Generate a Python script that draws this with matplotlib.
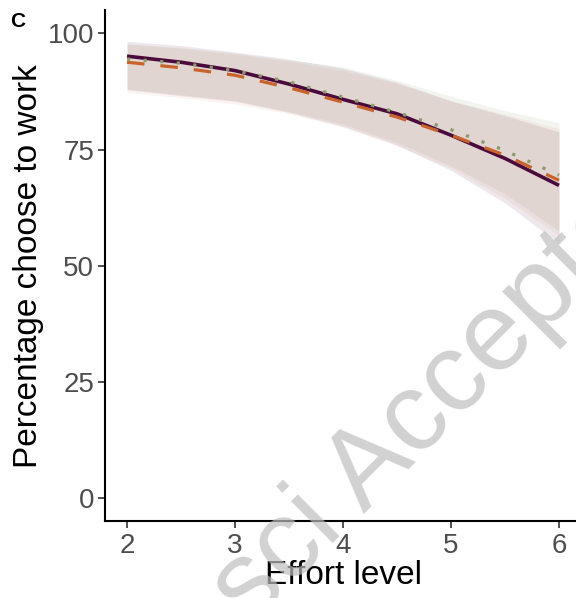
import matplotlib
matplotlib.use("Agg")
import matplotlib.pyplot as plt

plt.rcParams['font.family'] = ['Liberation Sans', 'DejaVu Sans']

# effort levels and model predictions (percent choose to work)
effort = [2, 2.5, 3, 3.5, 4, 4.5, 5, 5.5, 6]

purple_fit = [95.1, 93.8, 92.0, 89.1, 85.8, 82.7, 78.1, 73.1, 67.3]
purple_lo = [87.9, 86.6, 85.4, 83.0, 80.0, 76.0, 70.5, 63.5, 54.8]
purple_hi = [98.3, 97.4, 96.0, 94.5, 92.5, 89.5, 85.5, 82.3, 78.8]

orange_fit = [93.8, 92.6, 91.0, 88.3, 85.2, 82.0, 78.1, 73.8, 68.4]
orange_lo = [87.3, 86.2, 84.8, 82.7, 79.8, 75.8, 71.0, 64.5, 56.5]
orange_hi = [97.6, 96.8, 95.5, 94.0, 92.0, 89.2, 85.5, 82.6, 79.5]

green_fit = [94.5, 93.6, 92.0, 89.6, 86.3, 83.0, 79.3, 74.8, 69.5]
green_lo = [88.0, 86.8, 85.5, 83.2, 80.5, 76.5, 71.5, 65.5, 57.5]
green_hi = [97.8, 97.0, 95.8, 94.3, 92.8, 89.9, 86.5, 83.4, 80.8]

x_ticks = [2, 3, 4, 5, 6]
y_ticks = [0, 25, 50, 75, 100]

c_purple = '#4A0A3C'
c_orange = '#C8642B'
c_green = '#8B9B6B'

fig = plt.figure(figsize=(5.76, 5.98), dpi=100)
ax = fig.add_axes([0.183, 0.128, 0.825, 0.855])

# confidence ribbons
ax.fill_between(effort, green_lo, green_hi, color=c_green, alpha=0.10, lw=0)
ax.fill_between(effort, purple_lo, purple_hi, color=c_purple, alpha=0.09, lw=0)
ax.fill_between(effort, orange_lo, orange_hi, color=c_orange, alpha=0.07, lw=0)

# fitted lines
ax.plot(effort, purple_fit, color=c_purple, lw=2.6, solid_capstyle='butt')
ax.plot(effort, orange_fit, color=c_orange, lw=2.3, ls=(0, (5.5, 5)), dash_capstyle='butt')
ax.plot(effort, green_fit, color=c_green, lw=2.3, ls=(0, (1, 4.2)), dash_capstyle='butt')

ax.set_xlim(1.8, 6.2)
ax.set_ylim(-5, 105)
ax.set_xticks(x_ticks)
ax.set_yticks(y_ticks)
ax.tick_params(labelsize=20, labelcolor='#4D4D4D', color='#333333', length=5, width=1.2, pad=3)
for s in ['top', 'right']:
    ax.spines[s].set_visible(False)
for s in ['left', 'bottom']:
    ax.spines[s].set_linewidth(1.5)
    ax.spines[s].set_clip_on(False)

ax.set_xlabel('Effort level', fontsize=24, labelpad=1)
ax.set_ylabel('Percentage choose to work', fontsize=24, labelpad=3)

fig.text(0.017, 0.955, 'C', fontsize=15, fontweight='bold')

# journal watermark
fig.text(-0.0081, -0.474, 'JNeurosci Accepted Manuscript', fontsize=80.3, color='#BEBEBE',
         alpha=0.7, rotation=45, rotation_mode='anchor', ha='left', va='baseline', zorder=10)

fig.savefig('out.png', dpi=100)
